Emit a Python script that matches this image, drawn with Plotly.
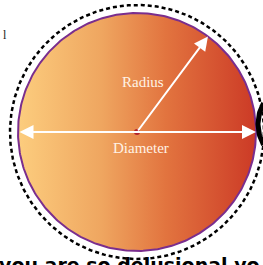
import numpy as np
import plotly.graph_objects as go

# --- data (pixel-like coordinate space of the diagram) ---
center = [137, 132]
circle_radius = 119
dashed_radius = 127
radius_angle_deg = 53.4
labels = ["Radius", "Diameter"]
label_x = [143, 140.5]
label_y = [82, 148]
caption = "you are so delusional yo"
gradient_colors = ["#FCCD7E", "#EFA660", "#E2743F", "#CC3A26"]
gradient_stops = [0.0, 0.35, 0.62, 1.0]

W, H = 263, 265
cx, cy = center
t = np.linspace(0, 2 * np.pi, 361)

fig = go.Figure()

# filled circle with horizontal gradient
fig.add_trace(go.Scatter(
    x=cx + circle_radius * np.cos(t), y=cy + circle_radius * np.sin(t),
    mode="lines", fill="toself",
    fillgradient=dict(type="horizontal",
                      colorscale=list(zip(gradient_stops, gradient_colors))),
    line=dict(color="#7A2E8E", width=2), hoverinfo="skip", showlegend=False))

# dashed outer circle
fig.add_trace(go.Scatter(
    x=cx + dashed_radius * np.cos(t), y=cy + dashed_radius * np.sin(t),
    mode="lines", line=dict(color="black", width=2.5, dash="4px,3px"),
    hoverinfo="skip", showlegend=False))

# black partial shape on the right edge
ta = np.linspace(np.radians(150), np.radians(210), 40)
fig.add_trace(go.Scatter(
    x=300 + 42 * np.cos(ta), y=124 + 42 * np.sin(ta) * -1,
    mode="lines", line=dict(color="black", width=5),
    hoverinfo="skip", showlegend=False))

# center dot
fig.add_trace(go.Scatter(x=[cx], y=[cy], mode="markers",
                         marker=dict(color="#B3222A", size=6),
                         hoverinfo="skip", showlegend=False))

ang = np.radians(radius_angle_deg)
rx = cx + circle_radius * np.cos(ang)
ry = cy - circle_radius * np.sin(ang)

# radius arrow
fig.add_annotation(x=rx, y=ry, ax=cx, ay=cy, xref="x", yref="y",
                   axref="x", ayref="y", text="", showarrow=True,
                   arrowhead=2, arrowsize=1.4, arrowwidth=2,
                   arrowcolor="white", standoff=0, startstandoff=0)
# diameter arrow
fig.add_annotation(x=cx + circle_radius, y=cy, ax=cx - circle_radius, ay=cy,
                   xref="x", yref="y", axref="x", ayref="y", text="",
                   showarrow=True, arrowhead=2, startarrowhead=2,
                   arrowside="end+start", arrowsize=1.4, startarrowsize=1.4,
                   arrowwidth=2, arrowcolor="white", standoff=0, startstandoff=0)

for txt, lx, ly in zip(labels, label_x, label_y):
    fig.add_annotation(x=lx, y=ly, text=txt, showarrow=False,
                       font=dict(family="Liberation Serif", size=15, color="#FFF3E6"))

# cut-off caption at bottom
fig.add_annotation(x=-0.01, y=1 - 252 / H, xref="paper", yref="paper",
                   text="<b>" + caption + "</b>", showarrow=False,
                   xanchor="left", yanchor="top",
                   font=dict(family="DejaVu Sans", size=19, color="black"))
# small glyph top-left
fig.add_annotation(x=0.5, y=35, text="l", showarrow=False, xanchor="left",
                   font=dict(family="Liberation Serif", size=12, color="#222"))

fig.update_xaxes(range=[0, W], visible=False)
fig.update_yaxes(range=[H, 0], visible=False)
fig.update_layout(width=W, height=H, margin=dict(l=0, r=0, t=0, b=0),
                  plot_bgcolor="white", paper_bgcolor="white")
fig.write_html("out.html", config={"displayModeBar": False},
               post_script="document.body.style.margin='0';document.body.style.overflow='hidden';")
